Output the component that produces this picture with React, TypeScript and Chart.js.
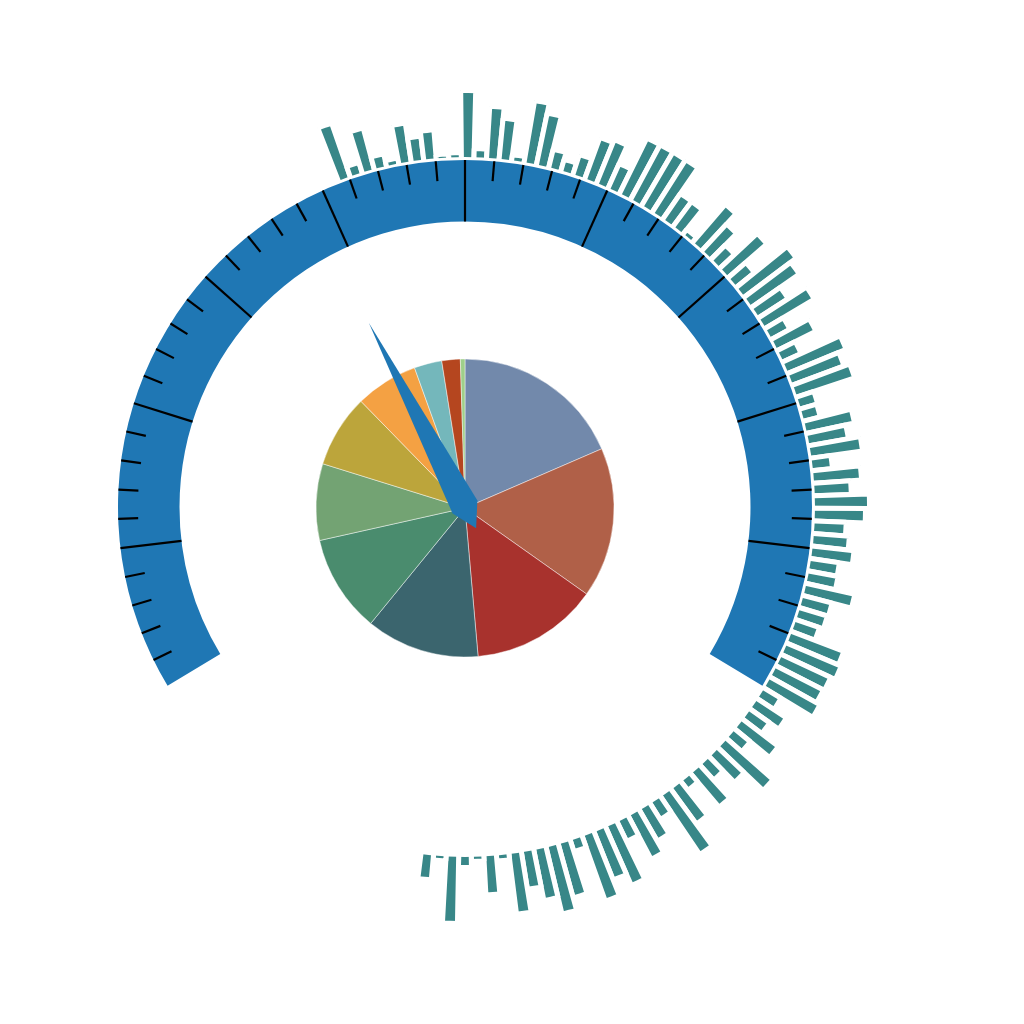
import React, { useEffect, useRef } from "react";
import { Chart, registerables } from "chart.js";

Chart.register(...registerables);

// ---------- data ----------
const barValues = [
  54, 8, 40, 10, 3, 36, 21, 26, 1, 2,
  64, 6, 49, 38, 3, 60, 50, 16, 9, 18,
  41, 44, 24, 59, 59, 59, 59, 28, 28, 3,
  47, 33, 17, 48, 20, 62, 55, 32, 54, 18,
  40, 17, 60, 52, 58, 15, 14, 46, 37, 49,
  17, 45, 34, 52, 48, 29, 33, 39, 26, 27,
  47, 27, 26, 22, 53, 56, 51, 50, 54, 17,
  32, 21, 42, 17, 59, 33, 17, 41, 8, 40,
  67, 16, 33, 46, 19, 61, 49, 66, 9, 53,
  66, 49, 35, 58, 3, 36, 2, 8, 64, 2,
  22,
];
const barLabels = barValues.map((_, i) => `B${i + 1}`);

const pieLabels = ["A", "B", "C", "D", "E", "F", "G", "H", "I", "J", "K"];
const pieValues = [18.5, 16.3, 13.8, 12.3, 10.6, 8.3, 7.9, 6.8, 3.0, 2.0, 0.5];
const pieColors = [
  "#7289ab", "#b06048", "#a8322d", "#3b656e", "#4a8c6e", "#73a373",
  "#bca53b", "#f4a143", "#74b7bb", "#b5461f", "#9fcf8a",
];

const gaugeRange = [0, 100];
const gaugeValue = [38.6];
const gaugeMajorSplits = 10;
const gaugeMinorSplits = 5;

// ---------- layout / style ----------
const W = 1024;
const CX = 465;
const CY = 507;
const PIE_CY = 508;
const GAUGE_OUTER = 347;
const GAUGE_INNER = 285.5;
const GAUGE_START = -121; // deg from top, clockwise
const GAUGE_SWEEP = 242;
const GAUGE_BLUE = "#1f77b4";
const BAR_COLOR = "#388788";
const BAR_BASE = 350;
const BAR_GAP = 5;
const BAR_SLOT = 2.064; // deg per bar
const BAR_FIRST = -20.2; // centre angle of first bar
const PIE_RADIUS = 149;

const padFor = (cy: number) => ({ left: 0, top: 0, right: W - 2 * CX, bottom: W - 2 * cy });

export default function App() {
  const polarRef = useRef<HTMLCanvasElement>(null);
  const pieRef = useRef<HTMLCanvasElement>(null);
  const gaugeRef = useRef<HTMLCanvasElement>(null);

  useEffect(() => {
    const charts: Chart[] = [];

    // ----- radial bars -----
    const drawArea = CX;
    const zeroDist = BAR_BASE + BAR_GAP / 2;
    const rMin = -zeroDist;
    const rMax = rMin + drawArea;
    const baseDisk = {
      id: "baseDisk",
      afterDatasetsDraw(chart: any) {
        const s = chart.scales.r;
        const ctx = chart.ctx;
        ctx.save();
        ctx.beginPath();
        ctx.arc(s.xCenter, s.yCenter, s.getDistanceFromCenterForValue(0) - BAR_GAP / 2, 0, Math.PI * 2);
        ctx.fillStyle = "#ffffff";
        ctx.fill();
        ctx.restore();
      },
    };
    charts.push(
      new Chart(polarRef.current!, {
        type: "polarArea",
        data: {
          labels: barLabels,
          datasets: [
            {
              data: barValues,
              backgroundColor: BAR_COLOR,
              borderColor: "#ffffff",
              borderWidth: BAR_GAP,
              angle: BAR_SLOT,
            } as any,
          ],
        },
        options: {
          responsive: false,
          animation: false,
          events: [],
          layout: { padding: padFor(CY) },
          plugins: { legend: { display: false }, tooltip: { enabled: false } },
          scales: {
            r: {
              display: false,
              min: rMin,
              max: rMax,
              startAngle: BAR_FIRST - BAR_SLOT / 2,
            } as any,
          },
        },
        plugins: [baseDisk],
      })
    );

    // ----- pie -----
    charts.push(
      new Chart(pieRef.current!, {
        type: "pie",
        data: {
          labels: pieLabels,
          datasets: [
            {
              data: pieValues,
              backgroundColor: pieColors,
              borderColor: "rgba(255,255,255,0.45)",
              borderWidth: 1,
            },
          ],
        },
        options: {
          responsive: false,
          animation: false,
          events: [],
          radius: PIE_RADIUS,
          layout: { padding: padFor(PIE_CY) },
          plugins: { legend: { display: false }, tooltip: { enabled: false } },
        } as any,
      })
    );

    // ----- gauge -----
    const span = gaugeRange[1] - gaugeRange[0];
    const toCanvasAngle = (v: number) =>
      ((GAUGE_START + (GAUGE_SWEEP * (v - gaugeRange[0])) / span - 90) * Math.PI) / 180;
    const gaugeDecor = {
      id: "gaugeDecor",
      afterDatasetsDraw(chart: any) {
        const arc = chart.getDatasetMeta(0).data[0];
        const { x, y, outerRadius, innerRadius } = arc;
        const ctx = chart.ctx;
        ctx.save();
        ctx.strokeStyle = "#000000";
        ctx.lineCap = "butt";
        const total = gaugeMajorSplits * gaugeMinorSplits;
        for (let j = 1; j < total; j++) {
          const v = gaugeRange[0] + (span * j) / total;
          const a = toCanvasAngle(v);
          const major = j % gaugeMinorSplits === 0;
          const r1 = outerRadius;
          const r0 = major ? innerRadius : outerRadius - 20;
          ctx.lineWidth = 2.2;
          ctx.beginPath();
          ctx.moveTo(x + Math.cos(a) * r0, y + Math.sin(a) * r0);
          ctx.lineTo(x + Math.cos(a) * r1, y + Math.sin(a) * r1);
          ctx.stroke();
        }
        // needle
        const a = toCanvasAngle(gaugeValue[0]);
        const ux = Math.cos(a), uy = Math.sin(a);
        const vx = -uy, vy = ux;
        const len = 207.5, half = 14, tail = 24;
        const pt = (u: number, w: number) => [x + ux * u + vx * w, y + uy * u + vy * w];
        const pts = [pt(len, 0), pt(0, half), pt(-tail, 0), pt(0, -half)];
        ctx.beginPath();
        ctx.moveTo(pts[0][0], pts[0][1]);
        for (let i = 1; i < pts.length; i++) ctx.lineTo(pts[i][0], pts[i][1]);
        ctx.closePath();
        ctx.fillStyle = GAUGE_BLUE;
        ctx.fill();
        ctx.restore();
      },
    };
    charts.push(
      new Chart(gaugeRef.current!, {
        type: "doughnut",
        data: {
          labels: ["range", ""],
          datasets: [
            {
              data: [span, (span * (360 - GAUGE_SWEEP)) / GAUGE_SWEEP],
              backgroundColor: [GAUGE_BLUE, "rgba(0,0,0,0)"],
              borderWidth: 0,
            },
          ],
        },
        options: {
          responsive: false,
          animation: false,
          events: [],
          rotation: GAUGE_START,
          radius: GAUGE_OUTER,
          cutout: `${(GAUGE_INNER / GAUGE_OUTER) * 100}%`,
          layout: { padding: padFor(CY) },
          plugins: { legend: { display: false }, tooltip: { enabled: false } },
        } as any,
        plugins: [gaugeDecor],
      })
    );

    return () => charts.forEach((c) => c.destroy());
  }, []);

  const cs: React.CSSProperties = { position: "absolute", left: 0, top: 0, width: W, height: W };
  return (
    <div style={{ position: "absolute", left: 0, top: 0, width: W, height: W, background: "#ffffff", overflow: "hidden" }}>
      <canvas ref={polarRef} width={W} height={W} style={cs} />
      <canvas ref={pieRef} width={W} height={W} style={cs} />
      <canvas ref={gaugeRef} width={W} height={W} style={cs} />
    </div>
  );
}
